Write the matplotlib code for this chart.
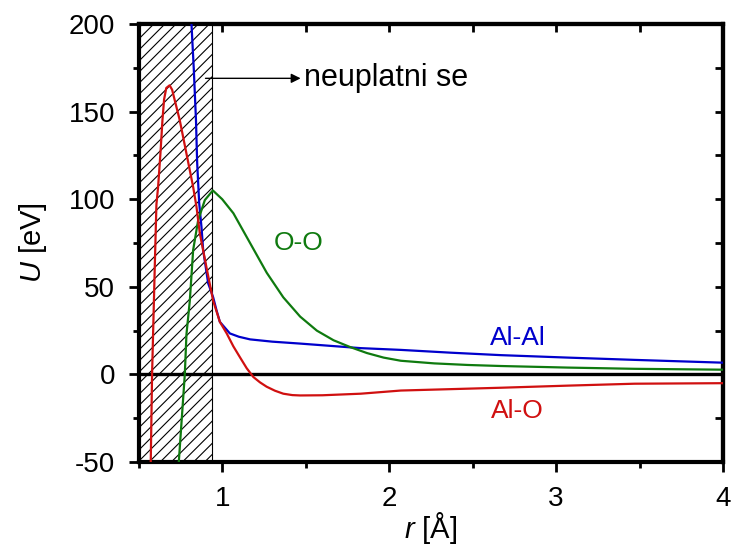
import matplotlib
matplotlib.use("Agg")
import matplotlib.pyplot as plt
from matplotlib.ticker import MultipleLocator

plt.rcParams["font.family"] = ["Liberation Sans", "DejaVu Sans"]
plt.rcParams["mathtext.fontset"] = "custom"
plt.rcParams["mathtext.rm"] = "Liberation Sans"
plt.rcParams["mathtext.it"] = "Liberation Sans:italic"
plt.rcParams["axes.unicode_minus"] = False
plt.rcParams["hatch.linewidth"] = 0.8

# Al-Al potential (blue)
r_alal = [0.816, 0.83, 0.843, 0.85, 0.862, 0.876, 0.886, 0.916, 0.946, 0.966,
          0.986, 1.046, 1.1, 1.167, 1.3, 1.467, 1.83, 2.07, 2.37, 2.67,
          3.07, 3.47, 4.0]
u_alal = [200, 174, 145, 121, 98, 84, 71, 52, 44, 36.6,
          30, 23.4, 21.5, 20, 18.7, 17.6, 15, 14, 12.4, 11,
          9.6, 8.3, 6.7]

# Al-O potential (red)
r_alo = [0.572, 0.58, 0.586, 0.596, 0.606, 0.616, 0.63, 0.642, 0.652, 0.665,
         0.685, 0.7, 0.746, 0.786, 0.826, 0.846, 0.866, 0.906, 0.946, 0.986,
         1.027, 1.067, 1.107, 1.147, 1.187, 1.226, 1.266, 1.316, 1.366, 1.42,
         1.467, 1.6, 1.83, 2.07, 2.37, 2.67, 3.07, 3.47, 4.0]
u_alo = [-50, 0, 23, 61, 97, 107, 126, 145, 157, 163.5,
         165, 162.5, 145, 126, 107, 95.7, 80.5, 61, 42, 30,
         23.4, 16, 9.7, 3.5, -1.5, -4.5, -7, -9.3, -11, -11.8,
         -12, -11.9, -11, -9.2, -8.4, -7.6, -6.4, -5.3, -5.0]

# O-O potential (green)
r_oo = [0.74, 0.776, 0.786, 0.806, 0.826, 0.856, 0.896, 0.944, 1.0, 1.067,
        1.167, 1.267, 1.366, 1.467, 1.567, 1.667, 1.767, 1.867, 1.967, 2.07,
        2.27, 2.47, 2.67, 3.07, 3.47, 4.0]
u_oo = [-50, 0, 23, 42, 71, 88, 99.5, 105, 100, 92,
        75, 58, 44, 33, 25, 19.5, 15.6, 12.2, 9.6, 7.8,
        6.3, 5.4, 4.8, 3.9, 3.2, 2.7]

fig = plt.figure(figsize=(7.34, 5.52), dpi=100)
ax = fig.add_axes([0.189, 0.163, 0.796, 0.7935])

# region where the potential is not valid
ax.axvspan(0.5, 0.94, facecolor="white", edgecolor="black", hatch="///",
           linewidth=0.8, zorder=1)
ax.axhline(0, color="black", linewidth=2.4, zorder=2)

ax.plot(r_alal, u_alal, color="#0000cc", linewidth=1.6, zorder=3)
ax.plot(r_oo, u_oo, color="#0f7a0f", linewidth=1.6, zorder=3)
ax.plot(r_alo, u_alo, color="#d01010", linewidth=1.6, zorder=4)

ax.text(1.455, 75, "O-O", color="#0f7a0f", fontsize=19, ha="center", va="center")
ax.text(2.77, 21, "Al-Al", color="#0000cc", fontsize=19, ha="center", va="center")
ax.text(2.77, -21, "Al-O", color="#d01010", fontsize=19, ha="center", va="center")

ax.annotate("", xy=(1.47, 169), xytext=(0.9, 169),
            arrowprops=dict(arrowstyle="-|>", color="black", lw=1,
                            mutation_scale=14, shrinkA=0, shrinkB=0))
ax.text(1.49, 169, "neuplatni se", fontsize=22, ha="left", va="center")

ax.set_xlim(0.5, 4)
ax.set_ylim(-50, 200)
ax.xaxis.set_major_locator(MultipleLocator(1))
ax.xaxis.set_minor_locator(MultipleLocator(0.5))
ax.yaxis.set_major_locator(MultipleLocator(50))
ax.yaxis.set_minor_locator(MultipleLocator(25))

for side in ax.spines.values():
    side.set_linewidth(3)

ax.tick_params(which="both", labelsize=20, width=2, direction="out",
               top=False, right=False, pad=10)
ax.tick_params(which="major", length=7)
ax.tick_params(which="minor", length=4.5)

# inward ticks on the top and right
ax_top = ax.secondary_xaxis("top")
ax_top.xaxis.set_major_locator(MultipleLocator(1))
ax_top.xaxis.set_minor_locator(MultipleLocator(0.5))
ax_top.tick_params(which="both", direction="in", width=2, labeltop=False, length=6)
ax_right = ax.secondary_yaxis("right")
ax_right.yaxis.set_major_locator(MultipleLocator(50))
ax_right.yaxis.set_minor_locator(MultipleLocator(25))
ax_right.tick_params(which="both", direction="in", width=2, labelright=False, length=6)
ax_top.spines["top"].set_linewidth(3)
ax_right.spines["right"].set_linewidth(3)

ax.set_xlabel("$r$ [Å]", fontsize=21, labelpad=-1)
ax.set_ylabel("$U$ [eV]", fontsize=21, labelpad=14)

fig.savefig("out.png", dpi=100)
